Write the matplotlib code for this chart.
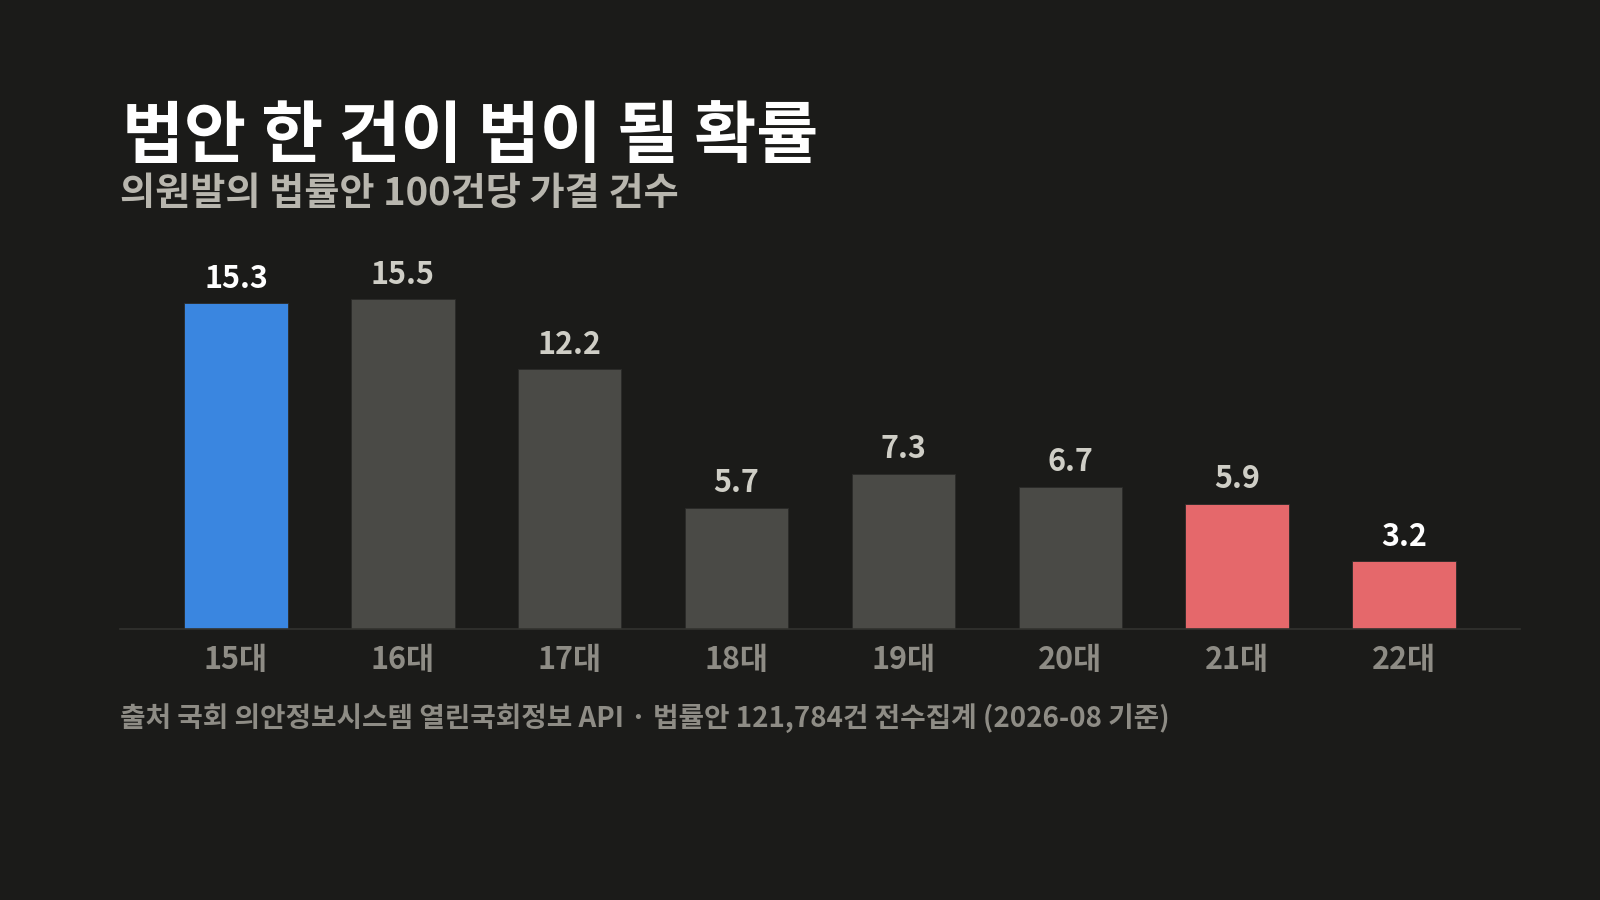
import matplotlib
matplotlib.use("Agg")
import matplotlib.pyplot as plt

plt.rcParams['font.family'] = ['Noto Sans CJK KR', 'DejaVu Sans']

# 국회 대수별 법률안 100건당 가결 건수
sessions = ['15대', '16대', '17대', '18대', '19대', '20대', '21대', '22대']
pass_rate = [15.3, 15.5, 12.2, 5.7, 7.3, 6.7, 5.9, 3.2]
bar_colors = ['#3a86e0', '#4a4a46', '#4a4a46', '#4a4a46',
              '#4a4a46', '#4a4a46', '#e5686b', '#e5686b']
label_colors = ['#ffffff', '#cfcec6', '#cfcec6', '#cfcec6',
                '#cfcec6', '#cfcec6', '#cfcec6', '#ffffff']

title = '법안 한 건이 법이 될 확률'
subtitle = '의원발의 법률안 100건당 가결 건수'
source = '출처 국회 의안정보시스템 열린국회정보 API · 법률안 121,784건 전수집계 (2026-08 기준)'

bg = '#1b1b19'

fig = plt.figure(figsize=(16, 9), dpi=100, facecolor=bg)
ax = fig.add_axes([0.075, 0.301, 0.875, 0.402])
ax.set_facecolor(bg)

x = list(range(len(sessions)))
bars = ax.bar(x, pass_rate, width=0.62, color=bar_colors,
              edgecolor='#2a2a28', linewidth=0.6, zorder=2)

for b, v, c in zip(bars, pass_rate, label_colors):
    ax.annotate(f'{v:.1f}', (b.get_x() + b.get_width() / 2, v),
                xytext=(0, 6), textcoords='offset points',
                ha='center', va='bottom', fontsize=22,
                fontweight='bold', color=c)

ax.set_xlim(-0.695, 7.695)
ax.set_ylim(0, 17)
ax.set_xticks(x)
ax.set_xticklabels(sessions, fontsize=22, fontweight='bold', color='#8e8c85')
ax.tick_params(axis='x', length=0, pad=11)
ax.set_yticks([])
for side in ['top', 'right', 'left']:
    ax.spines[side].set_visible(False)
ax.spines['bottom'].set_color('#33332f')
ax.spines['bottom'].set_linewidth(1.2)

fig.text(0.076, 0.826, title, fontsize=48.5, fontweight='bold',
         color='#ffffff', va='baseline', ha='left')
fig.text(0.075, 0.772, subtitle, fontsize=27.5, fontweight='bold',
         color='#b8b6ae', va='baseline', ha='left')
fig.text(0.075, 0.192, source, fontsize=20, fontweight='bold',
         color='#8e8c85', va='baseline', ha='left')

fig.savefig('out.png', dpi=100, facecolor=bg)
